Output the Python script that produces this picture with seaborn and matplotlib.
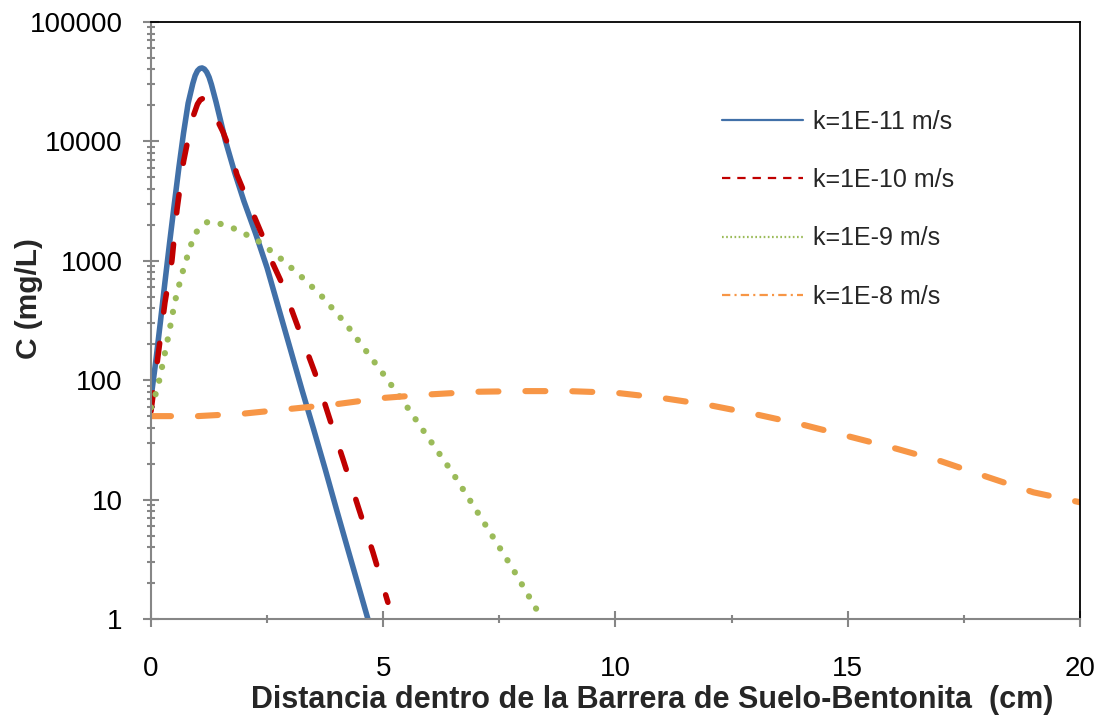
import matplotlib
matplotlib.use('Agg')
import matplotlib.pyplot as plt
from matplotlib.lines import Line2D
from matplotlib.ticker import LogLocator, FuncFormatter, MultipleLocator, NullFormatter
import seaborn as sns
import pandas as pd

# valores (distancia en cm, concentracion en mg/L)
x_k11 = [0, 0.1, 0.2, 0.3, 0.4, 0.5, 0.6, 0.7, 0.8, 0.9, 0.95, 1.0, 1.05, 1.1, 1.15, 1.2,
         1.25, 1.3, 1.4, 1.5, 1.6, 1.8, 2.0, 2.25, 2.5, 2.75, 3.0, 3.25, 3.5, 3.75, 4.0,
         4.25, 4.5, 4.7]
c_k11 = [71, 141, 302, 661, 1410, 2950, 6030, 11700, 20900, 30500, 35500, 39000, 40800,
         41200, 40300, 38000, 34500, 30000, 21400, 14800, 10200, 5500, 3160, 1700, 871,
         398, 182, 83, 39, 18, 8.1, 3.7, 1.7, 0.91]

x_k10 = [0, 0.1, 0.2, 0.3, 0.45, 0.56, 0.7, 0.88, 1.0, 1.06, 1.12, 1.18, 1.27, 1.4, 1.55,
         1.7, 1.85, 2.0, 2.17, 2.41, 2.56, 2.82, 3.15, 3.53, 3.85, 4.13, 4.46, 4.78, 5.1]
c_k10 = [55, 112, 224, 447, 1000, 2690, 6760, 15100, 20500, 22300, 22900, 22300, 20000,
         15800, 12000, 8500, 5250, 3800, 2630, 1580, 1070, 646, 288, 115, 47, 22, 8.7,
         3.6, 1.38]

x_k9 = [0, 0.14, 0.27, 0.39, 0.51, 0.66, 0.84, 0.95, 1.18, 1.3, 1.49, 1.79, 2.26, 2.76,
        3.23, 3.66, 4.2, 4.56, 4.95, 5.51, 5.86, 6.5, 7.15, 7.79, 8.33]
c_k9 = [59, 85, 148, 251, 447, 759, 1290, 1700, 2090, 2140, 2040, 1860, 1510, 1070,
        741, 513, 295, 191, 120, 60, 38, 16.6, 6.6, 2.63, 1.15]

x_k8 = [0, 1, 2, 3, 4, 5, 6, 7, 8, 9, 10, 11, 12, 13, 14, 15, 16, 17, 18, 19, 20]
c_k8 = [50, 50, 52.5, 57.5, 63, 71, 76, 80, 81, 81, 78.5, 71, 62, 52, 42.7, 34, 27,
        21, 15.5, 11.5, 9.5]

labels = ['k=1E-11 m/s', 'k=1E-10 m/s', 'k=1E-9 m/s', 'k=1E-8 m/s']
colors = ['#4170A8', '#C00000', '#9BBB59', '#F79646']

sns.set_style('white')
plt.rcParams['font.family'] = ['Liberation Sans', 'DejaVu Sans']
plt.rcParams['lines.scale_dashes'] = False

fig = plt.figure(figsize=(11.03, 7.18), dpi=100)
ax = fig.add_axes([0.1369, 0.1379, 0.8422, 0.8315])

series = [(x_k11, c_k11), (x_k10, c_k10), (x_k9, c_k9), (x_k8, c_k8)]
styles = [
    dict(linewidth=4.0, linestyle='-'),
    dict(linewidth=4.0, linestyle=(0, (13.3, 22.7)), dash_capstyle='round'),
    dict(linewidth=4.5, linestyle=(0, (0.1, 10.0)), dash_capstyle='round'),
    dict(linewidth=4.4, linestyle=(0, (14.4, 19.4)), dash_capstyle='round'),
]
for (xs, cs), lab, col, st in zip(series, labels, colors, styles):
    df = pd.DataFrame({'x': xs, 'c': cs})
    sns.lineplot(data=df, x='x', y='c', ax=ax, color=col, estimator=None,
                 sort=False, legend=False, **st)

ax.set_yscale('log')
ax.set_xlim(0, 20)
ax.set_ylim(1, 100000)

ax.xaxis.set_major_locator(MultipleLocator(5))
ax.xaxis.set_minor_locator(MultipleLocator(2.5))
ax.yaxis.set_major_locator(LogLocator(base=10, numticks=10))
ax.yaxis.set_minor_locator(LogLocator(base=10, subs=range(2, 10), numticks=20))
ax.yaxis.set_major_formatter(FuncFormatter(lambda v, _: f'{v:.0f}'))
ax.yaxis.set_minor_formatter(NullFormatter())

ax.tick_params(axis='both', which='major', direction='inout', length=11, width=1.5,
               color='#868686', labelsize=20, labelcolor='black')
ax.tick_params(axis='both', which='minor', direction='inout', length=6, width=1.5,
               color='#868686')
ax.tick_params(axis='y', which='major', pad=15)
ax.tick_params(axis='x', which='major', pad=21)
ax.tick_params(left=True, bottom=True, which='both')

for side in ['left', 'bottom']:
    ax.spines[side].set_color('#868686')
    ax.spines[side].set_linewidth(1.5)
for side in ['top', 'right']:
    ax.spines[side].set_color('black')
    ax.spines[side].set_linewidth(1.3)

ax.set_xlabel('Distancia dentro de la Barrera de Suelo-Bentonita  (cm)',
              fontsize=22, fontweight='bold')
ax.set_ylabel('C (mg/L)', fontsize=21.5, fontweight='bold')
ax.xaxis.set_label_coords(0.539, -0.11)
ax.yaxis.set_label_coords(-0.116, 0.536)

handles = [
    Line2D([], [], color=colors[0], linewidth=1.6),
    Line2D([], [], color=colors[1], linewidth=1.6, linestyle=(0, (6, 5))),
    Line2D([], [], color=colors[2], linewidth=1.6, linestyle=(0, (1.2, 1.8))),
    Line2D([], [], color=colors[3], linewidth=1.6, linestyle=(0, (6, 3, 1.5, 3))),
]
ax.legend(handles, labels, loc='upper left', bbox_to_anchor=(0.6546, 0.8468),
          bbox_transform=fig.transFigure, frameon=False, fontsize=18,
          handlelength=3.24, handletextpad=0.4, labelspacing=1.37,
          borderpad=0, borderaxespad=0)

fig.savefig('out.png', dpi=100)
